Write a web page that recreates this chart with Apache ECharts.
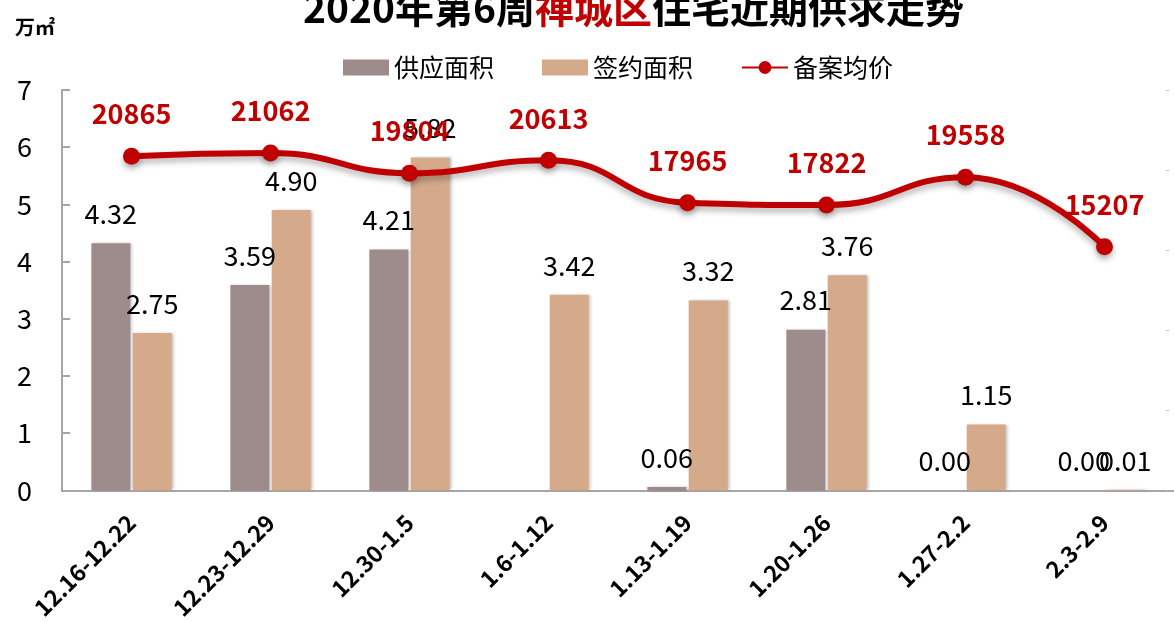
<!DOCTYPE html>
<html>
<head>
<meta charset="utf-8">
<script src="https://cdn.jsdelivr.net/npm/echarts@6/dist/echarts.min.js"></script>
<style>
  html, body { margin: 0; padding: 0; background: #fff; }
  #chart { width: 1174px; height: 622px; }
</style>
</head>
<body>
<div id="chart"></div>
<script>
// 周次
const weeks = ["12.16-12.22", "12.23-12.29", "12.30-1.5", "1.6-1.12", "1.13-1.19", "1.20-1.26", "1.27-2.2", "2.3-2.9"];
// 供应面积(万㎡)
const supply = [4.32, 3.59, 4.21, "-", 0.06, 2.81, 0.00, 0.00];
// 签约面积(万㎡)
const signed = [2.75, 4.90, 5.82, 3.42, 3.32, 3.76, 1.15, 0.01];
// 备案均价(元/㎡)
const price = [20865, 21062, 19804, 20613, 17965, 17822, 19558, 15207];

const FONT = "'Noto Sans CJK SC', 'Noto Sans', sans-serif";
const RED = "#c00000";

const chart = echarts.init(document.getElementById("chart"));

const barLabel = {
    show: true,
    position: "top",
    distance: 16,
    fontSize: 27,
    color: "#000",
    fontFamily: FONT,
    formatter: p => Number(p.value).toFixed(2)
};

const option = {
    backgroundColor: "#fff",
    animation: false,
    textStyle: { fontFamily: FONT },
    title: [{
        left: 298,
        top: -16,
        text: "{a|2020年第6周}{r|禅城区}{a|住宅近期供求走势}",
        textStyle: {
            rich: {
                a: { fontSize: 39, fontWeight: "bold", color: "#000", fontFamily: FONT },
                r: { fontSize: 39, fontWeight: "bold", color: RED, fontFamily: FONT }
            }
        }
    }, {
        left: 10,
        top: 12,
        text: "万㎡",
        textStyle: { fontSize: 20, fontWeight: "bold", color: "#000", fontFamily: FONT }
    }],
    legend: {
        top: 50,
        left: 338,
        itemGap: 48,
        itemWidth: 46,
        itemHeight: 16,
        textStyle: { fontSize: 25, color: "#000", fontFamily: FONT },
        data: [
            { name: "供应面积", icon: "rect" },
            { name: "签约面积", icon: "rect" },
            { name: "备案均价" }
        ]
    },
    grid: { left: 62, right: -6, top: 90, bottom: 130, containLabel: false },
    xAxis: {
        type: "category",
        data: weeks,
        axisLine: { lineStyle: { color: "#a6a6a6", width: 2 } },
        axisTick: { show: false },
        axisLabel: {
            rotate: 45,
            interval: 0,
            margin: 28,
            fontSize: 23,
            fontWeight: "bold",
            color: "#000",
            fontFamily: FONT
        }
    },
    yAxis: [{
        type: "value",
        min: 0,
        max: 7,
        interval: 1,
        axisLine: { show: true, lineStyle: { color: "#a6a6a6", width: 2 } },
        axisTick: { show: true, inside: true, length: 8, lineStyle: { color: "#a6a6a6", width: 2 } },
        splitLine: { show: false },
        axisLabel: { fontSize: 27, color: "#000", margin: 30, fontFamily: FONT }
    }, {
        type: "value",
        min: 0,
        max: 25000,
        interval: 5000,
        position: "right",
        offset: -8,
        axisLine: { show: false },
        axisTick: { show: true, length: 3, lineStyle: { color: "#bfbfbf" } },
        splitLine: { show: false },
        axisLabel: { show: false }
    }],
    series: [{
        name: "供应面积",
        type: "bar",
        data: supply,
        barWidth: 39,
        barGap: "6%",
        itemStyle: {
            color: "#9e8b8c",
            shadowColor: "rgba(0,0,0,0.25)",
            shadowBlur: 3,
            shadowOffsetX: 2
        },
        label: barLabel
    }, {
        name: "签约面积",
        type: "bar",
        data: signed,
        barWidth: 39,
        itemStyle: {
            color: "#d5aa8b",
            shadowColor: "rgba(0,0,0,0.25)",
            shadowBlur: 3,
            shadowOffsetX: 2
        },
        label: barLabel
    }, {
        name: "备案均价",
        type: "line",
        yAxisIndex: 1,
        data: price,
        smooth: 0.5,
        symbol: "circle",
        symbolSize: 17,
        z: 5,
        lineStyle: {
            color: RED,
            width: 6,
            shadowColor: "rgba(0,0,0,0.3)",
            shadowBlur: 6,
            shadowOffsetY: 4
        },
        itemStyle: {
            color: RED,
            shadowColor: "rgba(0,0,0,0.3)",
            shadowBlur: 6,
            shadowOffsetY: 4
        },
        label: {
            show: true,
            position: "top",
            distance: 20,
            fontSize: 27,
            fontWeight: "bold",
            color: RED,
            fontFamily: FONT
        }
    }]
};

chart.setOption(option);
</script>
</body>
</html>
